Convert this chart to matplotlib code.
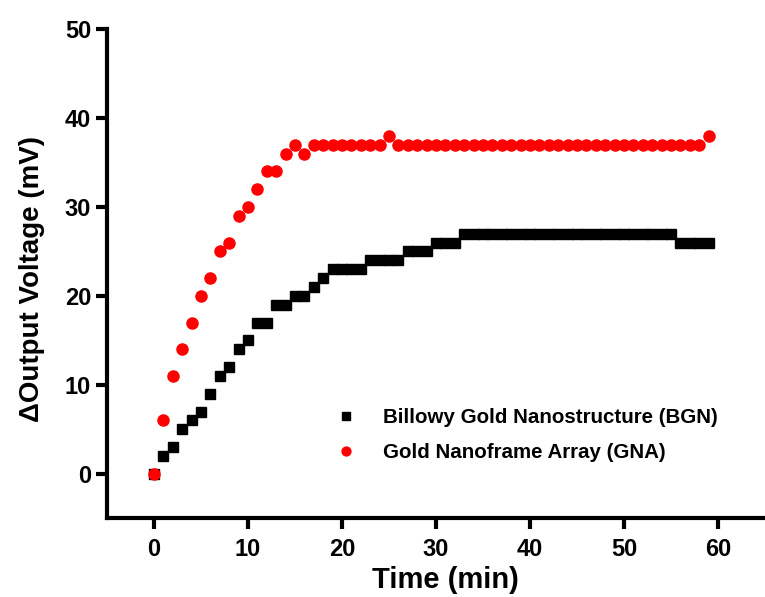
import numpy as np
from matplotlib import pyplot as plt

time_min = list(range(60))

bgn_mv = [0, 2, 3, 5, 6, 7, 9, 11, 12, 14,
          15, 17, 17, 19, 19, 20, 20, 21, 22, 23,
          23, 23, 23, 24, 24, 24, 24, 25, 25, 25,
          26, 26, 26, 27, 27, 27, 27, 27, 27, 27,
          27, 27, 27, 27, 27, 27, 27, 27, 27, 27,
          27, 27, 27, 27, 27, 27, 26, 26, 26, 26]

gna_mv = [0, 6, 11, 14, 17, 20, 22, 25, 26, 29,
          30, 32, 34, 34, 36, 37, 36, 37, 37, 37,
          37, 37, 37, 37, 37, 38, 37, 37, 37, 37,
          37, 37, 37, 37, 37, 37, 37, 37, 37, 37,
          37, 37, 37, 37, 37, 37, 37, 37, 37, 37,
          37, 37, 37, 37, 37, 37, 37, 37, 37, 38]

plt.rcParams['font.family'] = ['Liberation Sans', 'DejaVu Sans']
plt.rcParams['font.weight'] = 'bold'

fig = plt.figure(figsize=(7.65, 5.97), dpi=100)
ax = fig.add_axes([0.14, 0.132, 0.86, 0.819])

ax.plot(time_min, bgn_mv, 's', color='black', markersize=7.8, label='Billowy Gold Nanostructure (BGN)')
ax.plot(time_min, gna_mv, 'o', color='#ff0000', markersize=8, label='Gold Nanoframe Array (GNA)')

ax.set_xlim(-5, 65)
ax.set_ylim(-5, 50)
ax.set_xticks([0, 10, 20, 30, 40, 50, 60])
ax.set_yticks([0, 10, 20, 30, 40, 50])

for side in ['top', 'right']:
    ax.spines[side].set_visible(False)
for side in ['left', 'bottom']:
    ax.spines[side].set_linewidth(3)

ax.tick_params(direction='out', length=8, width=3, labelsize=17)
ax.tick_params(axis='x', pad=6)
for lbl in ax.get_xticklabels() + ax.get_yticklabels():
    lbl.set_fontweight('bold')

ax.set_xlabel('Time (min)', fontsize=21, fontweight='bold', va='top')
ax.xaxis.set_label_coords(0.515, -0.098)
ax.set_ylabel('ΔOutput Voltage (mV)', fontsize=20, fontweight='bold')
ax.yaxis.set_label_coords(-0.095, 0.49)

ax.legend(loc='upper left', bbox_to_anchor=(0.347, 0.226), frameon=False,
          borderpad=0, borderaxespad=0, handlelength=1.0, handletextpad=1.3,
          labelspacing=0.8, markerscale=0.8,
          prop={'weight': 'bold', 'size': 14.8})

fig.savefig('out.png', dpi=100)
